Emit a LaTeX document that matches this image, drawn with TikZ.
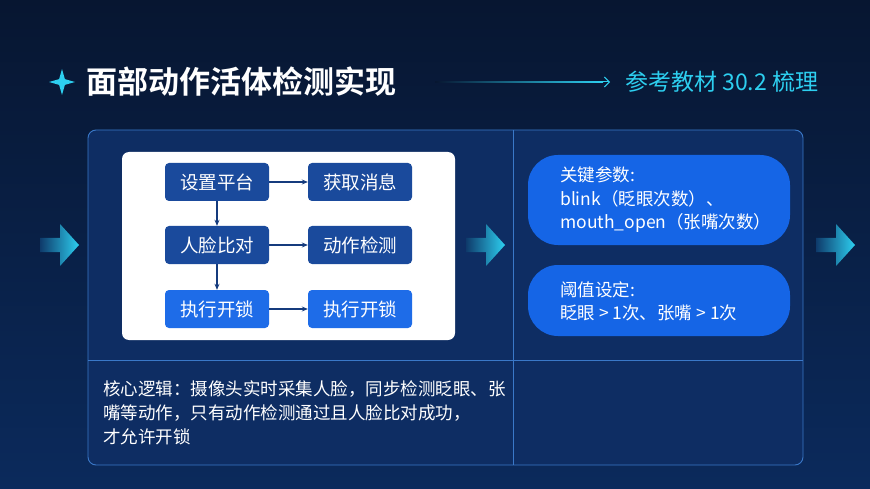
\documentclass[tikz,border=0pt]{standalone}
\usepackage{fontspec}
\setmainfont{Noto Sans CJK SC}
\newfontfamily\cjkb{Noto Sans CJK SC Bold}
\usetikzlibrary{arrows.meta,shapes.geometric}
\definecolor{bgtop}{HTML}{071631}
\definecolor{bgbot}{HTML}{0B2A5C}
\definecolor{panel}{HTML}{0E2D63}
\definecolor{panelline}{HTML}{3A78C8}
\definecolor{darkbox}{HTML}{1A4A9C}
\definecolor{brightbox}{HTML}{1E6CE8}
\definecolor{pill}{HTML}{1565E6}
\definecolor{cyanc}{HTML}{2DCFF0}
\tikzset{
  flow/.style={rounded corners=4pt, minimum width=104pt, minimum height=38pt, text=white, font=\fontsize{18.5}{21}\selectfont, inner sep=0pt},
  dk/.style={flow, fill=darkbox},
  br/.style={flow, fill=brightbox},
  conn/.style={-{Stealth[length=6pt,width=5pt]}, line width=1.1pt, draw=darkbox!80!black},
  txt/.style={text=white, anchor=west, inner sep=0pt, font=\fontsize{17.5}{20}\selectfont}
}
\begin{document}
\begin{tikzpicture}[x=1pt,y=-1pt]
\useasboundingbox (0,0) rectangle (870,489);
\shade[top color=bgtop, bottom color=bgbot] (0,0) rectangle (870,489);
% title
\node[star, star points=4, star point ratio=3.2, fill=cyanc, minimum size=26pt, inner sep=0pt] (star) at (62,82) {};
\node[anchor=west, text=white, inner sep=0pt, font=\cjkb\fontsize{31}{34}\selectfont] (title) at (86,82) {面部动作活体检测实现};
\node[anchor=west, text=cyanc, inner sep=0pt, font=\fontsize{23}{26}\selectfont] (ref) at (625,82) {参考教材 30.2 梳理};
\coordinate (ls) at (435,82);
\coordinate (le) at (610,82);
\shade[left color=bgtop, right color=cyanc] (435,81.4) rectangle (603,82.6);
\draw[-{Straight Barb[length=5pt]}, cyanc, line width=1pt] (600,82) -- (le);
% panel
\draw[fill=panel, draw=panelline, line width=0.9pt, rounded corners=8pt] (88,130) rectangle (803,465);
\draw[panelline, line width=0.8pt] (513,130) -- (513,465);
\draw[panelline, line width=0.8pt] (88,360) -- (803,360);
% white box
\fill[white, rounded corners=7pt] (122,152) rectangle (455,340);
\node[dk] (a) at (217,182) {设置平台};
\node[dk] (b) at (360,182) {获取消息};
\node[dk] (c) at (217,245) {人脸比对};
\node[dk] (d) at (360,245) {动作检测};
\node[br] (e) at (217,309) {执行开锁};
\node[br] (f) at (360,309) {执行开锁};
\draw[conn] (a) -- (b);
\draw[conn] (c) -- (d);
\draw[conn] (e) -- (f);
\draw[conn] (a) -- (c);
\draw[conn] (c) -- (e);
% big arrows
\foreach \x in {40,466,816}{
  \shade[left color=cyanc!10!bgbot, right color=cyanc] (\x,238) -- (\x+20,238) -- (\x+20,224) -- (\x+39,245) -- (\x+20,266) -- (\x+20,252) -- (\x,252) -- cycle;
}
% pills
\fill[pill, rounded corners=30pt] (528,155) rectangle (790,245);
\node[txt] (p1) at (560,175) {关键参数:};
\node[txt] (p2) at (560,199) {blink（眨眼次数）、};
\node[txt] (p3) at (560,223) {mouth\_open（张嘴次数）};
\fill[pill, rounded corners=30pt] (528,265) rectangle (790,336);
\node[txt] (q1) at (560,290) {阈值设定:};
\node[txt] (q2) at (560,313) {眨眼 > 1次、张嘴 > 1次};
% bottom text
\node[txt] (t1) at (103,389) {核心逻辑：摄像头实时采集人脸，同步检测眨眼、张};
\node[txt] (t2) at (103,413) {嘴等动作，只有动作检测通过且人脸比对成功，};
\node[txt] (t3) at (103,437) {才允许开锁};
\end{tikzpicture}
\end{document}
